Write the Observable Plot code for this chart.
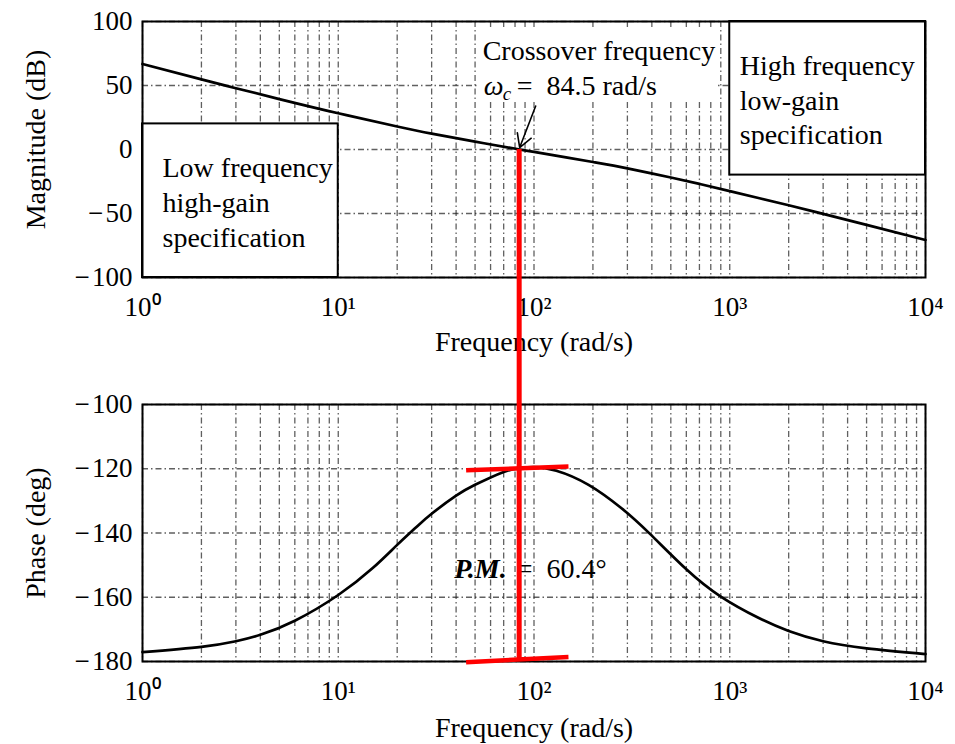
<!DOCTYPE html>
<html><head><meta charset="utf-8">
<script src="https://cdn.jsdelivr.net/npm/d3@7"></script>
<script src="https://cdn.jsdelivr.net/npm/@observablehq/plot@0.6"></script>
<style>
html,body{margin:0;padding:0;background:#fff;overflow:hidden}
#chart svg{display:block}
</style></head><body><div id="chart"></div>
<script>
// ---- data ----
const magFreq = [1, 2, 3, 5, 10, 20, 30, 50, 84.5, 100, 200, 300, 500, 700, 1000, 2000, 3000, 5000, 10000];
const magDb   = [66.8, 54.8, 47.9, 39.4, 28.3, 18.0, 12.4, 6.1, 0, -1.9, -9.8, -14.7, -21.9, -26.9, -32.5, -43.6, -50.3, -58.9, -70.7];

const phaseFreq = [1, 2, 3, 4, 6, 10, 15, 20, 25, 30, 40, 50, 70, 84.5, 100, 130, 190, 280, 390, 600, 900, 1400, 2000, 3000, 5000, 10000];
const phaseDeg  = [-177.1, -175.45, -173.7, -171.7, -167.3, -159.3, -150.9, -143.7, -138.2, -134.0, -128.4, -125.0, -121.0, -119.8, -119.5, -120.6, -125.0, -132.3, -140.2, -151.3, -159.8, -166.4, -170.5, -173.7, -175.9, -177.7];

const xTicks = [1, 10, 100, 1000, 10000];
const xTickLabels = ["10\u2070", "10\u00b9", "10\u00b2", "10\u00b3", "10\u2074"];
const magTicks = [-100, -50, 0, 50, 100];
const phaseTicks = [-180, -160, -140, -120, -100];
const gridFreqs = [1,2,3,4,5,6,7,8,9,10,20,30,40,50,60,70,80,90,100,200,300,400,500,600,700,800,900,1000,2000,3000,4000,5000,6000,7000,8000,9000,10000];

const wc = 84.5;           // crossover frequency (rad/s)
const pmText = "=\u200260.4°"; // phase margin label
const lowBox  = [{x1: 1,    x2: 10,    y1: -100, y2: 20,  text: "Low frequency\nhigh-gain\nspecification"}];
const highBox = [{x1: 1000, x2: 10000, y1: -20,  y2: 100, text: "High frequency\nlow-gain\nspecification"}];
const crossBg = [{x1: 52, x2: 850, y1: 38, y2: 93}];
const arrowPts = [{x1: 102, y1: 34, x2: 84.5, y2: 1.5}];
const pmBars = [{x1: 45, y1: -120.5, x2: 150, y2: -119.3}, {x1: 45, y1: -180.2, x2: 150, y2: -178.6}];

const magnitude = magFreq.map((f, i) => ({f, v: magDb[i]}));
const phase = phaseFreq.map((f, i) => ({f, v: phaseDeg[i]}));

// ---- shared styling ----
const FONT = "'Liberation Serif', 'Times New Roman', serif";
const RED = "#ff0000";
const FS = 28;
const gridStyle = {stroke: "#222", strokeOpacity: 0.72, strokeWidth: 1.3, strokeDasharray: "6,3,1.5,3"};
const minus = d => (d < 0 ? "\u2212\u200a" : "") + Math.abs(d);
const xAxis = {type: "log", domain: [1, 10000], ticks: xTicks, tickFormat: d => xTickLabels[xTicks.indexOf(d)], tickSize: 0, tickPadding: 19, label: null};

function redVertical(part) {
  return (index, scales, values, dim) => {
    const x = scales.x(wc);
    const y1 = part === "top" ? scales.y(0) : 0;
    const y2 = part === "top" ? dim.height : scales.y(-180);
    const line = document.createElementNS("http://www.w3.org/2000/svg", "line");
    line.setAttribute("x1", x); line.setAttribute("x2", x);
    line.setAttribute("y1", y1); line.setAttribute("y2", y2);
    line.setAttribute("stroke", RED); line.setAttribute("stroke-width", 5);
    return line;
  };
}

const topPlot = Plot.plot({
  width: 955, height: 370,
  marginLeft: 142, marginRight: 30, marginTop: 21, marginBottom: 93,
  style: {fontFamily: FONT, fontSize: "27px", background: "white", color: "black"},
  x: xAxis,
  y: {domain: [-100, 100], ticks: magTicks, tickFormat: minus, tickSize: 0, tickPadding: 10, label: null},
  marks: [
    Plot.ruleX(gridFreqs, gridStyle),
    Plot.ruleY(magTicks, gridStyle),
    Plot.rect(crossBg, {x1: "x1", x2: "x2", y1: "y1", y2: "y2", fill: "white"}),
    Plot.rect(lowBox, {x1: "x1", x2: "x2", y1: "y1", y2: "y2", fill: "white", stroke: "black", strokeWidth: 2}),
    Plot.rect(highBox, {x1: "x1", x2: "x2", y1: "y1", y2: "y2", fill: "white", stroke: "black", strokeWidth: 2}),
    Plot.line(magnitude, {x: "f", y: "v", stroke: "black", strokeWidth: 2.7, curve: "natural"}),
    Plot.text(lowBox, {x: "x1", y: d => (d.y1 + d.y2) / 2, text: "text", dx: 20, textAnchor: "start", lineAnchor: "middle", lineHeight: 1.25, fontSize: FS}),
    Plot.text(highBox, {x: "x1", y: d => (d.y1 + d.y2) / 2, text: "text", dx: 10, textAnchor: "start", lineAnchor: "middle", lineHeight: 1.25, fontSize: FS}),
    Plot.text([wc], {x: d => d, frameAnchor: "top", dy: 30, dx: -37, text: () => "Crossover frequency", textAnchor: "start", lineAnchor: "middle", fontSize: FS}),
    Plot.text([wc], {x: d => d, frameAnchor: "top", dy: 65, dx: -36, text: () => "\u03c9", textAnchor: "start", lineAnchor: "middle", fontSize: FS, fontStyle: "italic"}),
    Plot.text([wc], {x: d => d, frameAnchor: "top", dy: 72, dx: -17, text: () => "c", textAnchor: "start", lineAnchor: "middle", fontSize: 19, fontStyle: "italic"}),
    Plot.text([wc], {x: d => d, frameAnchor: "top", dy: 65, dx: -3, text: d => "=\u2002" + d + " rad/s", textAnchor: "start", lineAnchor: "middle", fontSize: FS}),
    Plot.arrow(arrowPts, {x1: "x1", y1: "y1", x2: "x2", y2: "y2", stroke: "black", strokeWidth: 1.6, headLength: 14}),
    Plot.frame({stroke: "black", strokeWidth: 2}),
    Plot.text(["Magnitude (dB)"], {frameAnchor: "left", dx: -106, dy: -10, rotate: -90, textAnchor: "middle", lineAnchor: "middle", fontSize: FS}),
    Plot.text(["Frequency (rad/s)"], {frameAnchor: "bottom", dy: 65, textAnchor: "middle", lineAnchor: "middle", fontSize: FS}),
    redVertical("top")
  ]
});

const bottomPlot = Plot.plot({
  width: 955, height: 374,
  marginLeft: 142, marginRight: 30, marginTop: 34, marginBottom: 83,
  style: {fontFamily: FONT, fontSize: "27px", background: "white", color: "black"},
  x: xAxis,
  y: {domain: [-180, -100], ticks: phaseTicks, tickFormat: minus, tickSize: 0, tickPadding: 10, label: null},
  marks: [
    Plot.ruleX(gridFreqs, gridStyle),
    Plot.ruleY(phaseTicks, gridStyle),
    Plot.line(phase, {x: "f", y: "v", stroke: "black", strokeWidth: 2.7, curve: "natural"}),
    Plot.text([wc], {x: d => d, frameAnchor: "top", dy: 165, dx: -13, text: () => "P.M.", textAnchor: "end", lineAnchor: "middle", fontSize: FS, fontStyle: "italic", fontWeight: "bold"}),
    Plot.text([wc], {x: d => d, frameAnchor: "top", dy: 165, dx: -3, text: () => pmText, textAnchor: "start", lineAnchor: "middle", fontSize: FS}),
    Plot.frame({stroke: "black", strokeWidth: 2}),
    Plot.text(["Phase (deg)"], {frameAnchor: "left", dx: -106, rotate: -90, textAnchor: "middle", lineAnchor: "middle", fontSize: FS}),
    Plot.text(["Frequency (rad/s)"], {frameAnchor: "bottom", dy: 67, textAnchor: "middle", lineAnchor: "middle", fontSize: FS}),
    Plot.link(pmBars, {x1: "x1", y1: "y1", x2: "x2", y2: "y2", stroke: RED, strokeWidth: 4.5}),
    redVertical("bottom")
  ]
});

const root = document.getElementById("chart");
root.appendChild(topPlot);
root.appendChild(bottomPlot);
</script>
</body></html>
